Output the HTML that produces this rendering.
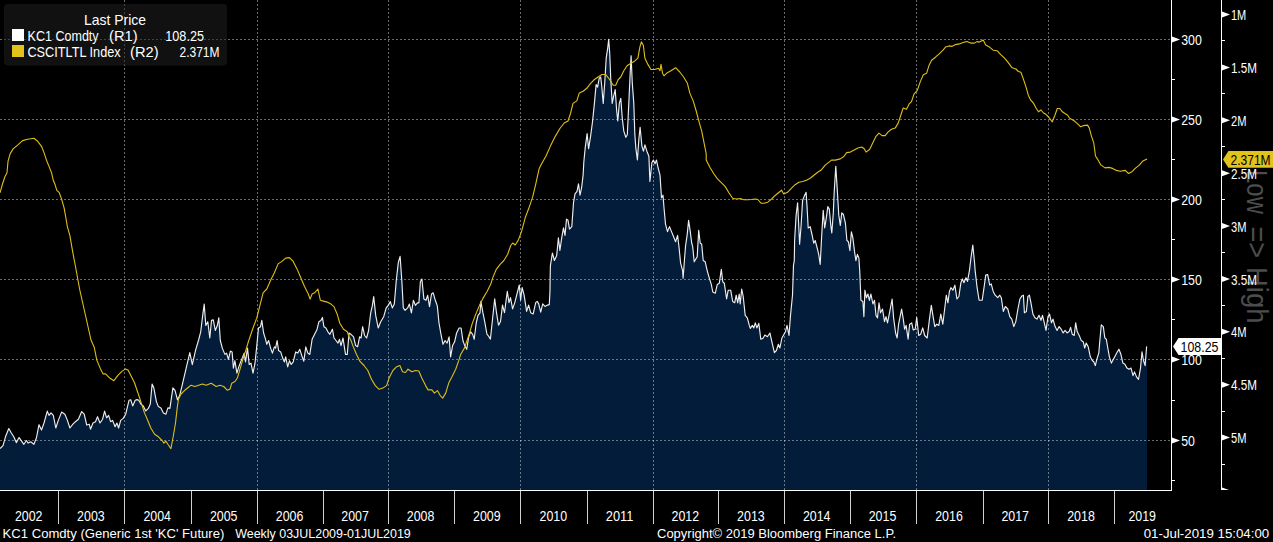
<!DOCTYPE html>
<html lang="en"><head><meta charset="utf-8"><title>KC1 Comdty chart</title>
<style>html,body{margin:0;padding:0;background:#000;overflow:hidden}svg{display:block}text{font-family:"Liberation Sans",sans-serif;fill:#fff}.g{stroke:#fff;stroke-opacity:.42;stroke-width:1;stroke-dasharray:2 2;fill:none;shape-rendering:crispEdges}.ax{stroke:#fff;stroke-width:1;fill:none;shape-rendering:crispEdges}.yt{stroke:#cfcfcf;stroke-width:1;fill:none;shape-rendering:crispEdges}</style></head><body>
<svg width="1273" height="542" viewBox="0 0 1273 542">
<rect x="0" y="0" width="1273" height="542" fill="#000"/>
<path d="M0.0,448.6 L3.0,445.6 L5.5,436.8 L8.8,428.5 L11.3,433.0 L13.8,436.8 L16.3,442.6 L19.1,437.5 L22.1,441.8 L23.9,444.3 L26.4,440.5 L28.2,443.1 L30.7,441.8 L33.9,444.3 L36.4,438.0 L39.0,424.7 L41.5,430.0 L44.0,423.0 L47.3,411.1 L49.0,415.4 L51.0,412.9 L53.3,415.4 L55.8,428.0 L58.3,420.4 L61.6,412.1 L64.9,414.2 L67.4,420.4 L69.9,428.0 L72.9,424.2 L75.4,421.7 L78.4,419.2 L81.7,411.6 L84.2,414.2 L86.7,425.0 L89.2,424.2 L90.5,429.2 L93.0,423.0 L95.5,421.7 L97.5,416.7 L100.0,423.0 L102.6,419.2 L104.6,411.1 L106.6,417.9 L108.6,415.4 L110.6,421.7 L112.6,420.4 L115.1,426.7 L116.9,423.0 L118.6,428.0 L120.7,420.4 L123.2,418.4 L125.7,414.2 L129.0,400.3 L130.7,399.8 L132.7,405.9 L135.2,400.3 L137.0,399.6 L138.8,400.3 L140.8,404.1 L143.3,405.9 L145.8,410.9 L148.3,408.4 L150.3,404.1 L152.1,384.0 L153.8,387.8 L156.4,401.6 L158.4,406.6 L160.9,407.9 L163.4,412.9 L165.9,414.2 L167.9,407.9 L169.9,408.4 L172.9,387.8 L175.0,390.3 L177.5,399.8 L179.7,395.3 L182.2,385.2 L186.0,368.9 L189.8,352.6 L192.3,364.6 L195.6,350.1 L198.6,340.0 L200.7,331.8 L202.7,315.4 L204.2,304.1 L205.8,325.5 L207.8,321.7 L209.8,338.0 L211.5,320.4 L213.3,319.9 L215.3,330.5 L217.3,325.5 L218.8,317.9 L220.3,340.5 L222.3,348.1 L224.9,354.4 L226.6,353.1 L228.4,359.4 L230.4,351.1 L232.1,351.9 L233.4,368.2 L234.9,360.7 L236.9,373.2 L239.2,365.7 L241.7,359.4 L244.2,353.1 L245.5,361.9 L247.5,348.1 L249.2,364.4 L251.0,363.2 L253.0,373.2 L255.0,363.2 L256.8,345.6 L258.5,328.0 L260.5,326.7 L261.8,320.4 L263.6,333.0 L265.6,339.3 L266.8,344.3 L268.6,340.5 L270.6,348.1 L272.4,353.1 L274.4,346.8 L275.6,348.1 L277.1,340.5 L278.6,350.6 L280.7,351.9 L282.7,358.1 L284.4,361.9 L285.7,356.9 L287.7,366.9 L289.5,360.7 L291.2,364.4 L293.2,361.9 L295.7,351.9 L297.8,353.1 L299.8,349.3 L301.8,355.6 L303.8,361.2 L305.8,346.8 L307.8,353.1 L309.8,354.4 L312.1,339.3 L314.6,334.3 L317.1,329.2 L318.9,321.7 L320.9,320.4 L322.4,317.4 L323.9,326.7 L325.9,328.0 L327.9,331.8 L329.9,334.3 L332.4,329.2 L334.0,338.0 L336.0,340.5 L338.0,343.1 L339.5,339.3 L341.0,345.6 L343.0,338.0 L345.5,354.4 L347.3,354.4 L349.0,333.0 L351.0,334.3 L353.6,336.8 L355.6,345.6 L357.6,346.8 L359.6,336.8 L361.1,338.0 L362.6,326.7 L364.6,335.5 L366.6,338.0 L368.6,330.5 L370.7,312.9 L372.4,305.4 L373.7,296.6 L375.7,315.4 L378.2,328.0 L380.7,321.7 L383.7,316.7 L386.2,307.9 L388.2,305.4 L390.3,301.6 L392.3,307.9 L394.3,304.1 L396.3,280.2 L398.3,262.6 L400.1,256.3 L401.8,280.2 L403.3,307.9 L405.1,310.4 L407.6,307.9 L409.4,304.1 L411.4,312.9 L413.4,300.3 L415.4,305.4 L417.4,302.8 L418.9,302.8 L420.4,281.5 L421.9,279.0 L423.9,299.1 L426.0,300.3 L427.7,295.3 L429.5,306.6 L431.5,294.0 L433.2,292.8 L435.3,300.3 L437.3,305.9 L439.0,323.0 L441.0,334.3 L443.0,344.3 L445.1,340.5 L447.1,343.1 L449.1,336.8 L450.6,356.9 L452.6,345.6 L454.6,341.8 L456.6,333.0 L459.1,328.0 L461.1,328.0 L462.9,340.5 L464.7,345.6 L466.7,349.3 L468.7,336.8 L470.7,331.8 L472.7,334.3 L474.2,339.3 L476.2,323.0 L478.0,315.4 L480.0,312.9 L480.9,301.4 L482.9,312.7 L484.9,322.7 L486.9,334.0 L488.9,336.6 L490.4,339.1 L492.4,320.2 L494.7,298.9 L496.5,312.7 L498.5,325.2 L500.5,321.5 L502.5,305.1 L504.5,312.7 L507.3,291.3 L509.0,302.6 L510.5,297.6 L512.6,308.9 L514.8,302.6 L517.3,292.6 L519.3,285.0 L520.6,300.1 L522.1,287.5 L524.1,295.1 L526.6,311.4 L528.6,305.1 L530.7,312.7 L533.2,313.9 L535.7,302.6 L537.2,301.4 L538.7,303.9 L540.7,312.2 L542.7,303.9 L545.0,306.4 L547.5,305.1 L549.3,304.6 L550.0,290.1 L550.1,280.7 L550.4,265.6 L552.4,253.0 L554.4,260.5 L556.7,255.5 L558.4,237.9 L559.9,250.5 L561.7,237.9 L563.5,227.9 L565.0,235.4 L566.5,219.1 L568.0,220.3 L569.5,229.1 L571.8,226.6 L573.5,202.7 L575.0,193.9 L577.0,191.4 L578.5,183.9 L580.0,195.2 L581.6,187.7 L583.1,175.1 L583.8,162.5 L585.1,148.7 L587.1,133.6 L588.6,148.7 L590.6,136.1 L592.6,121.0 L594.4,103.4 L596.1,84.6 L597.6,87.1 L599.2,78.3 L600.7,77.0 L601.7,85.8 L603.2,103.4 L604.7,83.3 L606.2,58.2 L607.7,48.1 L608.7,39.3 L609.7,53.1 L610.7,78.3 L612.2,103.4 L613.7,95.9 L615.2,89.6 L616.7,111.0 L617.8,121.0 L619.3,103.4 L620.8,98.4 L622.3,118.5 L623.8,131.1 L625.8,137.3 L627.3,134.8 L628.8,103.4 L630.3,70.7 L631.1,55.7 L632.3,83.3 L633.8,103.4 L634.8,133.6 L635.9,148.7 L637.4,160.0 L638.9,138.6 L640.1,127.3 L641.9,146.1 L643.4,151.2 L644.9,144.9 L646.9,151.2 L648.9,156.2 L649.9,181.4 L651.9,162.5 L653.4,160.0 L655.0,163.8 L656.5,160.0 L658.0,167.5 L660.0,175.1 L661.5,197.7 L663.0,195.2 L664.0,207.8 L665.5,224.1 L667.5,231.6 L669.5,226.6 L671.5,231.6 L673.6,236.7 L675.6,241.7 L677.6,235.4 L679.1,248.0 L680.6,263.1 L682.6,270.6 L683.1,278.1 L684.6,258.0 L685.6,245.5 L687.1,235.4 L688.6,220.3 L690.1,230.4 L691.7,243.0 L692.7,246.7 L694.2,261.8 L695.7,259.3 L697.2,256.8 L698.7,230.4 L700.2,243.0 L701.7,244.2 L703.2,260.5 L705.2,261.8 L707.2,270.6 L709.3,278.1 L711.3,284.4 L712.8,292.0 L715.3,293.2 L717.3,284.4 L719.3,283.2 L721.3,269.3 L722.8,281.9 L724.3,283.2 L726.6,299.0 L728.2,290.2 L730.7,290.2 L732.7,301.5 L734.7,302.8 L736.2,295.2 L737.7,302.8 L739.2,294.0 L740.2,304.0 L741.7,289.0 L743.2,296.5 L745.2,315.4 L747.3,317.9 L749.3,325.4 L750.3,328.4 L752.3,325.4 L753.8,327.9 L755.3,322.9 L756.8,327.9 L758.8,323.4 L760.8,339.2 L762.8,338.5 L764.9,335.0 L767.4,336.7 L769.9,333.0 L771.9,341.8 L774.4,352.6 L776.4,350.5 L778.4,344.3 L779.9,348.0 L781.9,338.0 L784.0,334.2 L785.5,331.7 L787.0,325.4 L789.0,335.5 L790.5,315.4 L792.5,295.2 L793.5,265.1 L794.3,260.7 L794.6,240.5 L796.1,215.4 L797.6,202.8 L798.6,223.0 L799.6,244.3 L801.1,225.5 L802.6,200.3 L804.1,196.6 L806.1,192.3 L807.1,207.9 L808.2,228.0 L810.2,226.7 L812.2,235.5 L813.7,243.1 L815.2,240.5 L817.2,248.1 L818.7,254.4 L820.2,264.4 L821.7,235.5 L823.2,210.4 L824.7,228.0 L826.3,217.9 L827.8,206.6 L829.3,209.1 L830.8,225.5 L831.8,233.0 L833.3,212.9 L834.3,190.3 L835.8,166.4 L837.3,190.3 L838.8,215.4 L840.3,225.5 L841.8,212.9 L843.3,214.2 L845.4,223.0 L846.9,240.5 L848.4,241.8 L849.9,250.6 L851.4,231.8 L852.9,238.0 L854.4,250.6 L855.9,260.7 L857.4,254.4 L858.9,258.1 L859.7,270.7 L859.9,275.1 L860.9,300.3 L862.9,301.5 L863.9,316.6 L864.9,290.2 L866.4,297.8 L867.9,294.0 L869.4,300.3 L870.9,294.0 L872.9,304.0 L874.5,300.3 L876.0,315.4 L877.5,317.9 L879.0,302.8 L880.5,312.8 L882.5,309.1 L884.5,321.6 L886.0,316.6 L887.5,322.9 L889.5,312.8 L892.1,299.0 L893.6,317.9 L895.6,333.0 L897.1,338.0 L898.6,324.2 L900.1,316.6 L901.6,309.1 L903.1,317.9 L904.6,329.2 L906.1,325.4 L908.1,339.2 L909.6,324.2 L911.7,322.9 L913.2,329.9 L915.2,329.2 L916.7,317.4 L918.7,335.5 L920.7,334.2 L922.7,327.9 L924.7,335.5 L927.2,338.0 L929.3,320.4 L931.3,305.3 L933.3,317.9 L934.8,326.7 L936.8,324.2 L938.8,325.4 L940.8,314.1 L942.8,324.2 L944.8,307.8 L946.3,295.2 L947.9,302.8 L949.4,291.5 L950.9,287.7 L952.9,290.2 L954.9,285.2 L956.9,299.0 L958.9,296.5 L960.9,282.7 L962.4,278.9 L963.9,282.7 L966.0,277.7 L967.5,281.4 L969.5,270.1 L971.0,257.5 L972.8,245.1 L974.6,263.2 L975.1,270.1 L977.1,287.7 L979.1,300.2 L982.2,300.2 L984.2,286.4 L985.7,275.1 L987.7,274.6 L989.7,285.1 L991.2,283.9 L993.2,291.4 L995.2,295.2 L997.7,297.7 L999.8,295.2 L1001.3,297.7 L1003.3,311.5 L1005.3,306.5 L1007.8,309.0 L1009.8,316.6 L1011.8,319.1 L1013.8,326.6 L1015.8,321.6 L1017.9,309.0 L1019.9,299.0 L1021.9,295.9 L1023.4,295.2 L1024.4,312.8 L1026.4,311.5 L1027.9,296.4 L1029.4,295.2 L1030.9,302.7 L1032.9,314.0 L1034.9,317.8 L1037.0,319.1 L1039.0,315.3 L1041.0,320.3 L1042.5,315.3 L1044.0,321.6 L1046.0,330.4 L1048.0,316.6 L1049.5,314.0 L1051.5,322.8 L1053.0,319.1 L1055.1,326.6 L1057.1,330.4 L1059.1,326.6 L1061.1,329.1 L1063.1,332.9 L1065.1,330.4 L1067.1,332.9 L1069.1,331.6 L1070.6,327.4 L1072.2,334.2 L1074.2,335.4 L1075.7,322.8 L1077.2,331.6 L1079.2,335.4 L1081.2,340.4 L1083.2,341.7 L1084.7,348.0 L1086.2,343.0 L1088.2,346.7 L1090.3,356.8 L1092.3,360.5 L1093.8,361.8 L1095.3,365.6 L1096.8,359.3 L1098.8,353.0 L1100.3,335.4 L1101.3,324.9 L1103.3,326.6 L1104.8,337.9 L1106.3,339.2 L1107.8,348.0 L1109.4,356.8 L1111.4,363.1 L1113.4,359.3 L1115.4,355.5 L1117.4,351.8 L1118.9,349.2 L1120.9,354.3 L1122.9,363.1 L1124.9,364.3 L1127.0,368.1 L1129.0,369.3 L1131.0,368.1 L1133.0,375.6 L1134.5,371.9 L1136.5,376.9 L1138.5,379.4 L1140.5,368.1 L1142.0,351.8 L1143.5,360.5 L1145.1,365.6 L1146.6,346.7 L1147.1,346.7 L1147.0,346.7 L1147.0,490.0 L0.0,490.0Z" fill="#031c39" stroke="none"/>
<g transform="translate(1246.8,0) rotate(90)" font-size="29.5" style="fill:#4d4d4d"><text x="170" y="0" textLength="44" lengthAdjust="spacingAndGlyphs" style="fill:#4d4d4d">Low</text><text x="226.5" y="0" textLength="31.5" lengthAdjust="spacingAndGlyphs" style="fill:#4d4d4d">=&gt;</text><text x="267" y="0" textLength="56.5" lengthAdjust="spacingAndGlyphs" style="fill:#4d4d4d">High</text></g>
<rect x="4" y="4" width="223" height="61.5" rx="4" ry="4" fill="#111"/>
<path class="g" d="M0,39.5 H1171"/>
<path class="g" d="M0,119.5 H1171"/>
<path class="g" d="M0,199.5 H1171"/>
<path class="g" d="M0,279.5 H1171"/>
<path class="g" d="M0,359.5 H1171"/>
<path class="g" d="M0,440.5 H1171"/>
<path class="g" d="M124.5,0 V490"/>
<path class="g" d="M257.5,0 V490"/>
<path class="g" d="M388.5,0 V490"/>
<path class="g" d="M520.5,0 V490"/>
<path class="g" d="M653.5,0 V490"/>
<path class="g" d="M784.5,0 V490"/>
<path class="g" d="M916.5,0 V490"/>
<path class="g" d="M1048.5,0 V490"/>
<path d="M0.0,448.6 L3.0,445.6 L5.5,436.8 L8.8,428.5 L11.3,433.0 L13.8,436.8 L16.3,442.6 L19.1,437.5 L22.1,441.8 L23.9,444.3 L26.4,440.5 L28.2,443.1 L30.7,441.8 L33.9,444.3 L36.4,438.0 L39.0,424.7 L41.5,430.0 L44.0,423.0 L47.3,411.1 L49.0,415.4 L51.0,412.9 L53.3,415.4 L55.8,428.0 L58.3,420.4 L61.6,412.1 L64.9,414.2 L67.4,420.4 L69.9,428.0 L72.9,424.2 L75.4,421.7 L78.4,419.2 L81.7,411.6 L84.2,414.2 L86.7,425.0 L89.2,424.2 L90.5,429.2 L93.0,423.0 L95.5,421.7 L97.5,416.7 L100.0,423.0 L102.6,419.2 L104.6,411.1 L106.6,417.9 L108.6,415.4 L110.6,421.7 L112.6,420.4 L115.1,426.7 L116.9,423.0 L118.6,428.0 L120.7,420.4 L123.2,418.4 L125.7,414.2 L129.0,400.3 L130.7,399.8 L132.7,405.9 L135.2,400.3 L137.0,399.6 L138.8,400.3 L140.8,404.1 L143.3,405.9 L145.8,410.9 L148.3,408.4 L150.3,404.1 L152.1,384.0 L153.8,387.8 L156.4,401.6 L158.4,406.6 L160.9,407.9 L163.4,412.9 L165.9,414.2 L167.9,407.9 L169.9,408.4 L172.9,387.8 L175.0,390.3 L177.5,399.8 L179.7,395.3 L182.2,385.2 L186.0,368.9 L189.8,352.6 L192.3,364.6 L195.6,350.1 L198.6,340.0 L200.7,331.8 L202.7,315.4 L204.2,304.1 L205.8,325.5 L207.8,321.7 L209.8,338.0 L211.5,320.4 L213.3,319.9 L215.3,330.5 L217.3,325.5 L218.8,317.9 L220.3,340.5 L222.3,348.1 L224.9,354.4 L226.6,353.1 L228.4,359.4 L230.4,351.1 L232.1,351.9 L233.4,368.2 L234.9,360.7 L236.9,373.2 L239.2,365.7 L241.7,359.4 L244.2,353.1 L245.5,361.9 L247.5,348.1 L249.2,364.4 L251.0,363.2 L253.0,373.2 L255.0,363.2 L256.8,345.6 L258.5,328.0 L260.5,326.7 L261.8,320.4 L263.6,333.0 L265.6,339.3 L266.8,344.3 L268.6,340.5 L270.6,348.1 L272.4,353.1 L274.4,346.8 L275.6,348.1 L277.1,340.5 L278.6,350.6 L280.7,351.9 L282.7,358.1 L284.4,361.9 L285.7,356.9 L287.7,366.9 L289.5,360.7 L291.2,364.4 L293.2,361.9 L295.7,351.9 L297.8,353.1 L299.8,349.3 L301.8,355.6 L303.8,361.2 L305.8,346.8 L307.8,353.1 L309.8,354.4 L312.1,339.3 L314.6,334.3 L317.1,329.2 L318.9,321.7 L320.9,320.4 L322.4,317.4 L323.9,326.7 L325.9,328.0 L327.9,331.8 L329.9,334.3 L332.4,329.2 L334.0,338.0 L336.0,340.5 L338.0,343.1 L339.5,339.3 L341.0,345.6 L343.0,338.0 L345.5,354.4 L347.3,354.4 L349.0,333.0 L351.0,334.3 L353.6,336.8 L355.6,345.6 L357.6,346.8 L359.6,336.8 L361.1,338.0 L362.6,326.7 L364.6,335.5 L366.6,338.0 L368.6,330.5 L370.7,312.9 L372.4,305.4 L373.7,296.6 L375.7,315.4 L378.2,328.0 L380.7,321.7 L383.7,316.7 L386.2,307.9 L388.2,305.4 L390.3,301.6 L392.3,307.9 L394.3,304.1 L396.3,280.2 L398.3,262.6 L400.1,256.3 L401.8,280.2 L403.3,307.9 L405.1,310.4 L407.6,307.9 L409.4,304.1 L411.4,312.9 L413.4,300.3 L415.4,305.4 L417.4,302.8 L418.9,302.8 L420.4,281.5 L421.9,279.0 L423.9,299.1 L426.0,300.3 L427.7,295.3 L429.5,306.6 L431.5,294.0 L433.2,292.8 L435.3,300.3 L437.3,305.9 L439.0,323.0 L441.0,334.3 L443.0,344.3 L445.1,340.5 L447.1,343.1 L449.1,336.8 L450.6,356.9 L452.6,345.6 L454.6,341.8 L456.6,333.0 L459.1,328.0 L461.1,328.0 L462.9,340.5 L464.7,345.6 L466.7,349.3 L468.7,336.8 L470.7,331.8 L472.7,334.3 L474.2,339.3 L476.2,323.0 L478.0,315.4 L480.0,312.9 L480.9,301.4 L482.9,312.7 L484.9,322.7 L486.9,334.0 L488.9,336.6 L490.4,339.1 L492.4,320.2 L494.7,298.9 L496.5,312.7 L498.5,325.2 L500.5,321.5 L502.5,305.1 L504.5,312.7 L507.3,291.3 L509.0,302.6 L510.5,297.6 L512.6,308.9 L514.8,302.6 L517.3,292.6 L519.3,285.0 L520.6,300.1 L522.1,287.5 L524.1,295.1 L526.6,311.4 L528.6,305.1 L530.7,312.7 L533.2,313.9 L535.7,302.6 L537.2,301.4 L538.7,303.9 L540.7,312.2 L542.7,303.9 L545.0,306.4 L547.5,305.1 L549.3,304.6 L550.0,290.1 L550.1,280.7 L550.4,265.6 L552.4,253.0 L554.4,260.5 L556.7,255.5 L558.4,237.9 L559.9,250.5 L561.7,237.9 L563.5,227.9 L565.0,235.4 L566.5,219.1 L568.0,220.3 L569.5,229.1 L571.8,226.6 L573.5,202.7 L575.0,193.9 L577.0,191.4 L578.5,183.9 L580.0,195.2 L581.6,187.7 L583.1,175.1 L583.8,162.5 L585.1,148.7 L587.1,133.6 L588.6,148.7 L590.6,136.1 L592.6,121.0 L594.4,103.4 L596.1,84.6 L597.6,87.1 L599.2,78.3 L600.7,77.0 L601.7,85.8 L603.2,103.4 L604.7,83.3 L606.2,58.2 L607.7,48.1 L608.7,39.3 L609.7,53.1 L610.7,78.3 L612.2,103.4 L613.7,95.9 L615.2,89.6 L616.7,111.0 L617.8,121.0 L619.3,103.4 L620.8,98.4 L622.3,118.5 L623.8,131.1 L625.8,137.3 L627.3,134.8 L628.8,103.4 L630.3,70.7 L631.1,55.7 L632.3,83.3 L633.8,103.4 L634.8,133.6 L635.9,148.7 L637.4,160.0 L638.9,138.6 L640.1,127.3 L641.9,146.1 L643.4,151.2 L644.9,144.9 L646.9,151.2 L648.9,156.2 L649.9,181.4 L651.9,162.5 L653.4,160.0 L655.0,163.8 L656.5,160.0 L658.0,167.5 L660.0,175.1 L661.5,197.7 L663.0,195.2 L664.0,207.8 L665.5,224.1 L667.5,231.6 L669.5,226.6 L671.5,231.6 L673.6,236.7 L675.6,241.7 L677.6,235.4 L679.1,248.0 L680.6,263.1 L682.6,270.6 L683.1,278.1 L684.6,258.0 L685.6,245.5 L687.1,235.4 L688.6,220.3 L690.1,230.4 L691.7,243.0 L692.7,246.7 L694.2,261.8 L695.7,259.3 L697.2,256.8 L698.7,230.4 L700.2,243.0 L701.7,244.2 L703.2,260.5 L705.2,261.8 L707.2,270.6 L709.3,278.1 L711.3,284.4 L712.8,292.0 L715.3,293.2 L717.3,284.4 L719.3,283.2 L721.3,269.3 L722.8,281.9 L724.3,283.2 L726.6,299.0 L728.2,290.2 L730.7,290.2 L732.7,301.5 L734.7,302.8 L736.2,295.2 L737.7,302.8 L739.2,294.0 L740.2,304.0 L741.7,289.0 L743.2,296.5 L745.2,315.4 L747.3,317.9 L749.3,325.4 L750.3,328.4 L752.3,325.4 L753.8,327.9 L755.3,322.9 L756.8,327.9 L758.8,323.4 L760.8,339.2 L762.8,338.5 L764.9,335.0 L767.4,336.7 L769.9,333.0 L771.9,341.8 L774.4,352.6 L776.4,350.5 L778.4,344.3 L779.9,348.0 L781.9,338.0 L784.0,334.2 L785.5,331.7 L787.0,325.4 L789.0,335.5 L790.5,315.4 L792.5,295.2 L793.5,265.1 L794.3,260.7 L794.6,240.5 L796.1,215.4 L797.6,202.8 L798.6,223.0 L799.6,244.3 L801.1,225.5 L802.6,200.3 L804.1,196.6 L806.1,192.3 L807.1,207.9 L808.2,228.0 L810.2,226.7 L812.2,235.5 L813.7,243.1 L815.2,240.5 L817.2,248.1 L818.7,254.4 L820.2,264.4 L821.7,235.5 L823.2,210.4 L824.7,228.0 L826.3,217.9 L827.8,206.6 L829.3,209.1 L830.8,225.5 L831.8,233.0 L833.3,212.9 L834.3,190.3 L835.8,166.4 L837.3,190.3 L838.8,215.4 L840.3,225.5 L841.8,212.9 L843.3,214.2 L845.4,223.0 L846.9,240.5 L848.4,241.8 L849.9,250.6 L851.4,231.8 L852.9,238.0 L854.4,250.6 L855.9,260.7 L857.4,254.4 L858.9,258.1 L859.7,270.7 L859.9,275.1 L860.9,300.3 L862.9,301.5 L863.9,316.6 L864.9,290.2 L866.4,297.8 L867.9,294.0 L869.4,300.3 L870.9,294.0 L872.9,304.0 L874.5,300.3 L876.0,315.4 L877.5,317.9 L879.0,302.8 L880.5,312.8 L882.5,309.1 L884.5,321.6 L886.0,316.6 L887.5,322.9 L889.5,312.8 L892.1,299.0 L893.6,317.9 L895.6,333.0 L897.1,338.0 L898.6,324.2 L900.1,316.6 L901.6,309.1 L903.1,317.9 L904.6,329.2 L906.1,325.4 L908.1,339.2 L909.6,324.2 L911.7,322.9 L913.2,329.9 L915.2,329.2 L916.7,317.4 L918.7,335.5 L920.7,334.2 L922.7,327.9 L924.7,335.5 L927.2,338.0 L929.3,320.4 L931.3,305.3 L933.3,317.9 L934.8,326.7 L936.8,324.2 L938.8,325.4 L940.8,314.1 L942.8,324.2 L944.8,307.8 L946.3,295.2 L947.9,302.8 L949.4,291.5 L950.9,287.7 L952.9,290.2 L954.9,285.2 L956.9,299.0 L958.9,296.5 L960.9,282.7 L962.4,278.9 L963.9,282.7 L966.0,277.7 L967.5,281.4 L969.5,270.1 L971.0,257.5 L972.8,245.1 L974.6,263.2 L975.1,270.1 L977.1,287.7 L979.1,300.2 L982.2,300.2 L984.2,286.4 L985.7,275.1 L987.7,274.6 L989.7,285.1 L991.2,283.9 L993.2,291.4 L995.2,295.2 L997.7,297.7 L999.8,295.2 L1001.3,297.7 L1003.3,311.5 L1005.3,306.5 L1007.8,309.0 L1009.8,316.6 L1011.8,319.1 L1013.8,326.6 L1015.8,321.6 L1017.9,309.0 L1019.9,299.0 L1021.9,295.9 L1023.4,295.2 L1024.4,312.8 L1026.4,311.5 L1027.9,296.4 L1029.4,295.2 L1030.9,302.7 L1032.9,314.0 L1034.9,317.8 L1037.0,319.1 L1039.0,315.3 L1041.0,320.3 L1042.5,315.3 L1044.0,321.6 L1046.0,330.4 L1048.0,316.6 L1049.5,314.0 L1051.5,322.8 L1053.0,319.1 L1055.1,326.6 L1057.1,330.4 L1059.1,326.6 L1061.1,329.1 L1063.1,332.9 L1065.1,330.4 L1067.1,332.9 L1069.1,331.6 L1070.6,327.4 L1072.2,334.2 L1074.2,335.4 L1075.7,322.8 L1077.2,331.6 L1079.2,335.4 L1081.2,340.4 L1083.2,341.7 L1084.7,348.0 L1086.2,343.0 L1088.2,346.7 L1090.3,356.8 L1092.3,360.5 L1093.8,361.8 L1095.3,365.6 L1096.8,359.3 L1098.8,353.0 L1100.3,335.4 L1101.3,324.9 L1103.3,326.6 L1104.8,337.9 L1106.3,339.2 L1107.8,348.0 L1109.4,356.8 L1111.4,363.1 L1113.4,359.3 L1115.4,355.5 L1117.4,351.8 L1118.9,349.2 L1120.9,354.3 L1122.9,363.1 L1124.9,364.3 L1127.0,368.1 L1129.0,369.3 L1131.0,368.1 L1133.0,375.6 L1134.5,371.9 L1136.5,376.9 L1138.5,379.4 L1140.5,368.1 L1142.0,351.8 L1143.5,360.5 L1145.1,365.6 L1146.6,346.7 L1147.1,346.7" fill="none" stroke="#eeeeee" stroke-width="1.15" stroke-linejoin="round"/>
<path d="M0.0,192.8 L2.5,184.0 L5.0,176.5 L7.0,172.7 L8.0,161.4 L10.1,153.9 L13.1,148.9 L17.6,145.1 L22.6,140.6 L27.7,139.3 L33.9,138.3 L37.7,141.3 L41.5,146.3 L44.0,152.6 L46.5,160.2 L49.0,166.4 L51.5,172.7 L53.3,180.3 L55.3,185.3 L56.8,190.3 L59.1,192.3 L61.6,199.1 L64.1,207.9 L65.9,218.0 L67.4,226.8 L69.9,235.6 L71.6,245.6 L73.4,255.7 L75.4,266.0 L79.8,290.0 L91.0,340.0 L94.3,347.5 L96.8,360.1 L100.5,368.9 L103.1,373.9 L105.6,373.9 L109.3,377.7 L113.9,380.7 L118.1,375.2 L121.9,371.4 L125.7,368.9 L128.2,370.2 L130.7,375.2 L134.5,382.7 L138.3,394.0 L140.8,401.6 L144.5,412.9 L148.3,421.7 L150.8,428.0 L154.6,434.3 L158.4,436.8 L162.1,440.5 L163.9,443.1 L165.9,441.1 L167.9,444.3 L170.9,448.6 L173.4,435.5 L175.5,423.0 L177.2,407.9 L178.5,399.1 L181.0,394.0 L184.8,390.3 L188.5,387.3 L191.0,385.2 L194.8,386.5 L198.6,385.2 L202.4,384.0 L206.1,385.2 L211.2,383.2 L216.2,386.5 L220.0,385.2 L223.7,386.5 L227.5,390.3 L230.0,389.0 L231.8,383.2 L235.0,381.5 L237.5,377.7 L240.1,368.9 L242.6,360.1 L245.1,352.6 L248.9,340.0 L249.2,339.3 L253.0,328.0 L256.8,317.9 L259.3,307.9 L263.1,292.8 L266.8,289.0 L270.6,280.2 L274.4,272.7 L278.1,263.9 L281.9,261.4 L285.7,258.1 L289.5,257.6 L293.2,261.4 L297.0,268.9 L300.8,277.7 L304.5,286.5 L308.3,294.0 L310.1,299.1 L312.1,294.0 L314.6,292.8 L317.9,289.0 L320.4,300.3 L323.4,301.1 L327.2,302.1 L330.9,304.1 L334.0,306.6 L337.2,314.2 L339.7,323.0 L343.5,329.2 L347.3,331.8 L349.0,336.8 L351.0,340.5 L352.7,345.4 L356.4,354.2 L360.2,361.7 L364.0,365.5 L367.8,370.5 L371.5,379.3 L375.3,385.6 L379.1,389.3 L382.8,388.1 L386.6,385.6 L389.1,378.0 L392.9,370.5 L396.7,366.7 L399.9,365.5 L402.5,371.8 L405.5,372.5 L408.0,369.2 L411.8,371.8 L415.5,370.5 L418.8,371.0 L421.8,378.0 L425.6,385.6 L428.1,389.9 L431.9,389.9 L434.4,393.1 L437.4,390.6 L440.2,395.6 L442.7,398.1 L445.7,393.1 L448.7,383.1 L452.0,376.8 L455.7,369.2 L458.8,360.4 L460.8,354.2 L464.5,347.9 L467.1,340.3 L469.6,332.8 L472.1,324.0 L475.9,313.9 L479.6,305.1 L483.4,297.6 L487.2,291.3 L490.9,283.8 L492.6,278.1 L496.3,269.3 L500.1,264.3 L503.9,260.5 L507.7,254.3 L510.7,245.5 L512.7,243.0 L515.2,245.0 L518.2,240.4 L521.5,231.6 L525.2,217.8 L529.0,207.8 L532.8,196.4 L535.8,183.9 L539.1,168.8 L541.6,163.8 L545.9,156.2 L550.4,146.1 L555.4,136.1 L559.9,128.5 L564.2,123.0 L568.0,121.0 L570.5,113.5 L573.0,103.4 L576.8,100.9 L579.3,92.9 L583.1,91.3 L586.8,88.3 L590.6,83.3 L594.4,79.5 L598.1,77.0 L601.9,74.5 L605.7,74.5 L608.7,78.3 L611.2,82.0 L613.2,85.3 L615.7,85.3 L618.3,79.5 L620.8,77.0 L623.8,70.7 L627.1,65.7 L630.8,63.2 L634.6,61.2 L637.9,58.2 L639.9,46.9 L641.4,41.8 L643.4,45.6 L644.9,58.2 L647.9,64.4 L650.9,69.5 L654.7,69.5 L658.5,68.2 L660.0,70.7 L661.0,64.4 L662.5,73.2 L664.0,75.8 L667.3,72.7 L671.0,70.7 L675.6,67.7 L679.8,72.0 L683.6,77.0 L687.4,83.3 L689.9,93.4 L693.2,100.9 L696.2,111.0 L699.2,122.3 L701.7,131.1 L703.7,141.1 L706.2,153.7 L706.2,160.0 L710.0,167.5 L713.8,173.8 L717.5,178.9 L721.3,182.6 L725.1,186.4 L728.9,192.7 L732.6,198.2 L736.4,199.0 L740.2,198.5 L743.9,199.7 L747.7,199.7 L751.5,199.5 L755.3,199.0 L757.8,199.5 L761.0,203.2 L764.1,203.2 L767.8,202.2 L771.6,199.0 L775.4,195.2 L779.1,192.2 L781.6,190.2 L783.7,193.9 L783.8,194.0 L787.5,192.3 L791.3,188.3 L795.1,184.7 L798.9,182.2 L802.6,181.5 L806.4,180.2 L810.2,178.2 L813.9,175.2 L817.7,172.2 L821.5,169.7 L825.2,165.1 L829.0,162.1 L831.5,160.1 L835.3,160.1 L840.3,158.9 L844.1,156.3 L846.6,152.6 L850.4,152.1 L854.2,150.1 L857.9,148.0 L861.7,147.0 L864.2,148.8 L866.0,152.1 L869.6,149.5 L872.6,143.2 L875.6,136.9 L878.9,133.1 L882.1,135.6 L885.1,135.6 L888.2,131.9 L891.4,129.3 L895.2,128.1 L898.2,123.1 L900.7,115.5 L903.2,108.0 L906.5,109.2 L909.0,104.2 L911.5,101.7 L914.0,94.2 L917.3,90.4 L920.3,81.6 L923.3,74.8 L926.6,73.3 L929.1,65.2 L931.6,60.2 L935.4,57.2 L939.2,53.9 L943.0,50.2 L945.5,47.1 L949.2,45.9 L951.8,46.4 L955.5,44.6 L959.3,43.9 L963.1,42.6 L966.8,41.4 L970.6,43.1 L974.4,43.1 L976.9,41.6 L979.4,42.1 L983.2,40.1 L985.7,45.1 L989.5,47.1 L993.2,50.2 L997.0,50.7 L1000.8,54.7 L1004.5,58.2 L1008.3,62.7 L1012.1,67.8 L1015.9,69.0 L1018.4,71.5 L1020.9,72.3 L1023.4,79.1 L1025.9,86.6 L1028.4,95.4 L1030.9,100.4 L1033.4,103.0 L1036.0,108.0 L1038.5,111.8 L1041.0,110.0 L1043.5,113.0 L1046.0,114.3 L1049.0,117.5 L1052.3,121.8 L1054.8,115.5 L1057.3,108.5 L1059.8,108.5 L1062.4,111.8 L1064.9,113.5 L1067.4,115.0 L1069.9,118.5 L1073.7,120.5 L1077.4,123.6 L1080.7,126.8 L1083.7,125.6 L1087.5,125.1 L1089.3,128.1 L1091.3,135.6 L1093.8,143.2 L1095.5,156.0 L1097.5,159.1 L1100.8,164.9 L1105.1,167.9 L1108.9,167.4 L1112.6,168.4 L1116.4,170.4 L1120.2,171.2 L1125.2,170.4 L1128.5,173.5 L1132.0,171.7 L1135.2,168.4 L1139.0,165.4 L1142.8,161.1 L1147.1,159.1" fill="none" stroke="#dfbe18" stroke-width="1.1" stroke-linejoin="round"/>
<path class="ax" d="M0,490.5 H1172"/>
<path class="ax" d="M1171.5,0 V491"/>
<path class="ax" d="M1221.5,0 V490"/>
<path d="M1222,487.6 L1229,490 H1222Z" fill="#fff"/>
<path class="yt" d="M58.5,491 V524"/>
<path class="yt" d="M124.5,491 V524"/>
<path class="yt" d="M191.5,491 V524"/>
<path class="yt" d="M257.5,491 V524"/>
<path class="yt" d="M323.5,491 V524"/>
<path class="yt" d="M388.5,491 V524"/>
<path class="yt" d="M454.5,491 V524"/>
<path class="yt" d="M520.5,491 V524"/>
<path class="yt" d="M587.5,491 V524"/>
<path class="yt" d="M653.5,491 V524"/>
<path class="yt" d="M718.5,491 V524"/>
<path class="yt" d="M784.5,491 V524"/>
<path class="yt" d="M850.5,491 V524"/>
<path class="yt" d="M916.5,491 V524"/>
<path class="yt" d="M983.5,491 V524"/>
<path class="yt" d="M1048.5,491 V524"/>
<path class="yt" d="M1114.5,491 V524"/>
<text x="14.9" y="520.9" font-size="14.5" textLength="27.6" lengthAdjust="spacingAndGlyphs">2002</text>
<text x="77.1" y="520.9" font-size="14.5" textLength="27.6" lengthAdjust="spacingAndGlyphs">2003</text>
<text x="143.4" y="520.9" font-size="14.5" textLength="27.6" lengthAdjust="spacingAndGlyphs">2004</text>
<text x="209.9" y="520.9" font-size="14.5" textLength="27.6" lengthAdjust="spacingAndGlyphs">2005</text>
<text x="275.8" y="520.9" font-size="14.5" textLength="27.6" lengthAdjust="spacingAndGlyphs">2006</text>
<text x="341.3" y="520.9" font-size="14.5" textLength="27.6" lengthAdjust="spacingAndGlyphs">2007</text>
<text x="406.8" y="520.9" font-size="14.5" textLength="27.6" lengthAdjust="spacingAndGlyphs">2008</text>
<text x="473.0" y="520.9" font-size="14.5" textLength="27.6" lengthAdjust="spacingAndGlyphs">2009</text>
<text x="539.5" y="520.9" font-size="14.5" textLength="27.6" lengthAdjust="spacingAndGlyphs">2010</text>
<text x="605.8" y="520.9" font-size="14.5" textLength="27.6" lengthAdjust="spacingAndGlyphs">2011</text>
<text x="671.5" y="520.9" font-size="14.5" textLength="27.6" lengthAdjust="spacingAndGlyphs">2012</text>
<text x="737.1" y="520.9" font-size="14.5" textLength="27.6" lengthAdjust="spacingAndGlyphs">2013</text>
<text x="802.9" y="520.9" font-size="14.5" textLength="27.6" lengthAdjust="spacingAndGlyphs">2014</text>
<text x="868.7" y="520.9" font-size="14.5" textLength="27.6" lengthAdjust="spacingAndGlyphs">2015</text>
<text x="935.2" y="520.9" font-size="14.5" textLength="27.6" lengthAdjust="spacingAndGlyphs">2016</text>
<text x="1001.4" y="520.9" font-size="14.5" textLength="27.6" lengthAdjust="spacingAndGlyphs">2017</text>
<text x="1067.2" y="520.9" font-size="14.5" textLength="27.6" lengthAdjust="spacingAndGlyphs">2018</text>
<text x="1128.4" y="520.9" font-size="14.5" textLength="27.6" lengthAdjust="spacingAndGlyphs">2019</text>
<path d="M1172,36.5 L1180,39.5 L1172,42.5Z" fill="#fff"/>
<text x="1181.2" y="45.1" font-size="14.5" textLength="20.6" lengthAdjust="spacingAndGlyphs">300</text>
<path d="M1172,116.5 L1180,119.5 L1172,122.5Z" fill="#fff"/>
<text x="1181.2" y="125.1" font-size="14.5" textLength="20.6" lengthAdjust="spacingAndGlyphs">250</text>
<path d="M1172,196.5 L1180,199.5 L1172,202.5Z" fill="#fff"/>
<text x="1181.2" y="205.1" font-size="14.5" textLength="20.6" lengthAdjust="spacingAndGlyphs">200</text>
<path d="M1172,276.5 L1180,279.5 L1172,282.5Z" fill="#fff"/>
<text x="1181.2" y="285.1" font-size="14.5" textLength="20.6" lengthAdjust="spacingAndGlyphs">150</text>
<path d="M1172,356.5 L1180,359.5 L1172,362.5Z" fill="#fff"/>
<text x="1181.2" y="365.1" font-size="14.5" textLength="20.6" lengthAdjust="spacingAndGlyphs">100</text>
<path d="M1172,437.5 L1180,440.5 L1172,443.5Z" fill="#fff"/>
<text x="1181.2" y="446.1" font-size="14.5" textLength="13.7" lengthAdjust="spacingAndGlyphs">50</text>
<path class="ax" d="M1172,79.5 H1175"/>
<path class="ax" d="M1172,159.5 H1175"/>
<path class="ax" d="M1172,239.5 H1175"/>
<path class="ax" d="M1172,319.5 H1175"/>
<path class="ax" d="M1172,400.5 H1175"/>
<path class="ax" d="M1172,480.5 H1175"/>
<path d="M1222,11.60 L1230,14.60 L1222,17.60Z" fill="#fff"/>
<text x="1231" y="20.1" font-size="14.5" textLength="15.3" lengthAdjust="spacingAndGlyphs">1M</text>
<path class="ax" d="M1222,40.5 H1225"/>
<path d="M1222,64.47 L1230,67.47 L1222,70.47Z" fill="#fff"/>
<text x="1231" y="73.0" font-size="14.5" textLength="26" lengthAdjust="spacingAndGlyphs">1.5M</text>
<path class="ax" d="M1222,93.5 H1225"/>
<path d="M1222,117.35 L1230,120.35 L1222,123.35Z" fill="#fff"/>
<text x="1231" y="125.8" font-size="14.5" textLength="15.5" lengthAdjust="spacingAndGlyphs">2M</text>
<path class="ax" d="M1222,146.5 H1225"/>
<path d="M1222,170.22 L1230,173.22 L1222,176.22Z" fill="#fff"/>
<text x="1231" y="178.7" font-size="14.5" textLength="26" lengthAdjust="spacingAndGlyphs">2.5M</text>
<path class="ax" d="M1222,199.5 H1225"/>
<path d="M1222,223.10 L1230,226.10 L1222,229.10Z" fill="#fff"/>
<text x="1231" y="231.6" font-size="14.5" textLength="15.5" lengthAdjust="spacingAndGlyphs">3M</text>
<path class="ax" d="M1222,252.5 H1225"/>
<path d="M1222,275.98 L1230,278.98 L1222,281.98Z" fill="#fff"/>
<text x="1231" y="284.5" font-size="14.5" textLength="26" lengthAdjust="spacingAndGlyphs">3.5M</text>
<path class="ax" d="M1222,305.5 H1225"/>
<path d="M1222,328.85 L1230,331.85 L1222,334.85Z" fill="#fff"/>
<text x="1231" y="337.4" font-size="14.5" textLength="15.5" lengthAdjust="spacingAndGlyphs">4M</text>
<path class="ax" d="M1222,358.5 H1225"/>
<path d="M1222,381.73 L1230,384.73 L1222,387.73Z" fill="#fff"/>
<text x="1231" y="390.2" font-size="14.5" textLength="26" lengthAdjust="spacingAndGlyphs">4.5M</text>
<path class="ax" d="M1222,411.5 H1225"/>
<path d="M1222,434.60 L1230,437.60 L1222,440.60Z" fill="#fff"/>
<text x="1231" y="443.1" font-size="14.5" textLength="15.5" lengthAdjust="spacingAndGlyphs">5M</text>
<path class="ax" d="M1222,464.5 H1225"/>
<path d="M1173,346.5 L1178.5,338 H1221 V355 H1178.5Z" fill="#fff"/>
<text x="1180.6" y="351.8" font-size="14.5" textLength="37.8" lengthAdjust="spacingAndGlyphs" style="fill:#000">108.25</text>
<path d="M1223,159.4 L1228.4,151 H1273 V167.8 H1228.4Z" fill="#e2c21b"/>
<text x="1230.6" y="164.7" font-size="14.5" textLength="40" lengthAdjust="spacingAndGlyphs" style="fill:#000">2.371M</text>
<rect x="4" y="4" width="223" height="61.5" rx="4" ry="4" fill="#111" fill-opacity="0.5"/>
<text x="84" y="24.8" font-size="14.5" textLength="62" lengthAdjust="spacingAndGlyphs">Last Price</text>
<rect x="12" y="29" width="12" height="12" fill="#fff"/>
<rect x="12" y="45" width="12" height="12" fill="#e2c21b"/>
<text x="27.6" y="41" font-size="14.5" textLength="71" lengthAdjust="spacingAndGlyphs">KC1 Comdty</text>
<text x="109" y="41" font-size="14.5" textLength="28.6" lengthAdjust="spacingAndGlyphs">(R1)</text>
<text x="165.3" y="41" font-size="14.5" textLength="38.7" lengthAdjust="spacingAndGlyphs">108.25</text>
<text x="27.4" y="56.8" font-size="14.5" textLength="93.3" lengthAdjust="spacingAndGlyphs">CSCITLTL Index</text>
<text x="130.1" y="56.8" font-size="14.5" textLength="28.6" lengthAdjust="spacingAndGlyphs">(R2)</text>
<text x="179.5" y="56.8" font-size="14.5" textLength="40" lengthAdjust="spacingAndGlyphs">2.371M</text>
<text x="2.6" y="537.6" font-size="12.5" textLength="221.7" lengthAdjust="spacingAndGlyphs">KC1 Comdty (Generic 1st 'KC' Future)</text>
<text x="235.2" y="537.6" font-size="12.5" textLength="175.6" lengthAdjust="spacingAndGlyphs">Weekly 03JUL2009-01JUL2019</text>
<text x="657" y="537.6" font-size="12.5" textLength="239" lengthAdjust="spacingAndGlyphs">Copyright© 2019 Bloomberg Finance L.P.</text>
<text x="1143.7" y="537.6" font-size="12.5" textLength="125.5" lengthAdjust="spacingAndGlyphs">01-Jul-2019 15:04:00</text>
</svg></body></html>
